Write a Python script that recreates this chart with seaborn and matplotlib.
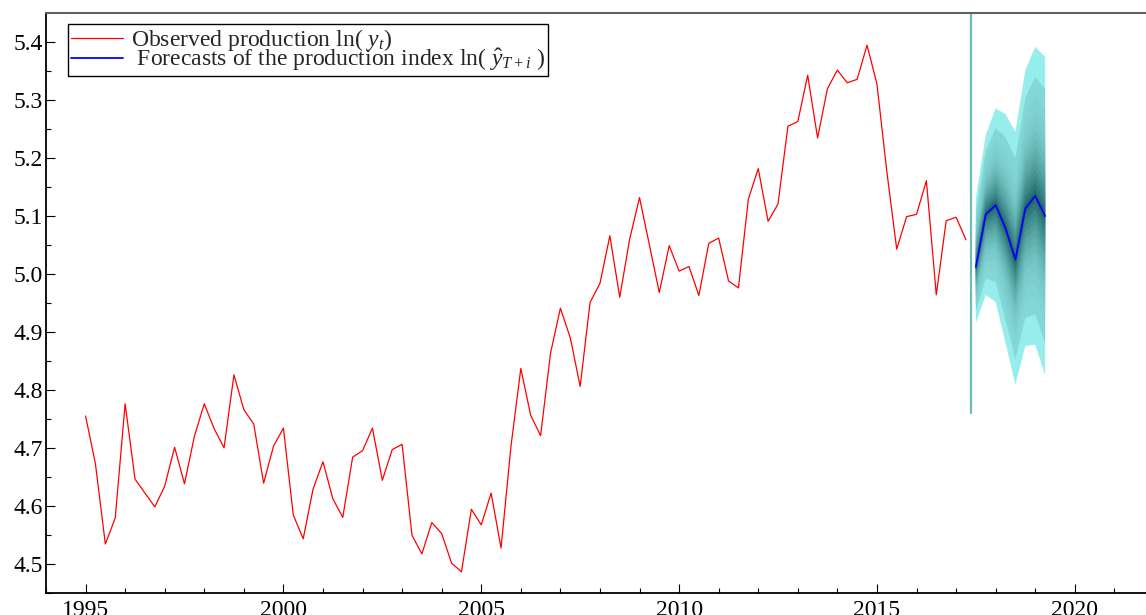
import numpy as np
import pandas as pd
import matplotlib
matplotlib.use("Agg")
import matplotlib.pyplot as plt
import seaborn as sns

# ---------------- data ----------------
obs_start = 1995.0          # first quarter of the observed sample
observed = [
    4.755, 4.672, 4.534, 4.579, 4.776, 4.646, 4.622, 4.598, 4.634, 4.701,
    4.638, 4.720, 4.776, 4.733, 4.700, 4.826, 4.766, 4.741, 4.639, 4.703,
    4.734, 4.584, 4.543, 4.629, 4.676, 4.612, 4.580, 4.684, 4.695, 4.734,
    4.644, 4.697, 4.706, 4.549, 4.517, 4.571, 4.552, 4.501, 4.486, 4.594,
    4.567, 4.622, 4.527, 4.702, 4.837, 4.756, 4.721, 4.863, 4.941, 4.890,
    4.806, 4.951, 4.984, 5.066, 4.960, 5.060, 5.132, 5.050, 4.968, 5.049,
    5.005, 5.013, 4.963, 5.053, 5.062, 4.988, 4.976, 5.129, 5.182, 5.091,
    5.121, 5.255, 5.263, 5.343, 5.235, 5.320, 5.352, 5.330, 5.336, 5.395,
    5.328, 5.177, 5.043, 5.099, 5.103, 5.161, 4.964, 5.092, 5.098, 5.059,
]
fc_start = 2017.5           # first forecast quarter
forecast = [5.012, 5.103, 5.119, 5.079, 5.025, 5.113, 5.135, 5.100]
fc_upper = [5.130, 5.240, 5.286, 5.276, 5.245, 5.352, 5.392, 5.375]
fc_lower = [4.915, 4.964, 4.952, 4.881, 4.809, 4.876, 4.878, 4.826]
divider_bottom = 4.76       # lower end of the forecast-origin marker

x_ticks = [1995, 2000, 2005, 2010, 2015, 2020]
y_ticks = [4.5, 4.6, 4.7, 4.8, 4.9, 5.0, 5.1, 5.2, 5.3, 5.4]

label_obs = r"Observed production ln( $y_t$)"
label_fc = r" Forecasts of the production index ln( $\hat{y}_{T+i}$ )"

# fan-chart band widths (fraction of the outer band) - styling
band_fracs = [1.0, 0.797, 0.674, 0.582, 0.506, 0.439, 0.379, 0.323,
              0.272, 0.223, 0.178, 0.132, 0.087, 0.043]

# ---------------- frames ----------------
obs_df = pd.DataFrame({"year": obs_start + 0.25 * np.arange(len(observed)),
                       "value": observed})
fc_df = pd.DataFrame({"year": fc_start + 0.25 * np.arange(len(forecast)),
                      "value": forecast, "upper": fc_upper, "lower": fc_lower})

# ---------------- style ----------------
sns.set_style("ticks")
plt.rcParams["font.family"] = ["Liberation Serif", "DejaVu Serif"]
plt.rcParams["mathtext.fontset"] = "custom"
plt.rcParams["mathtext.rm"] = "Liberation Serif"
plt.rcParams["mathtext.it"] = "Liberation Serif:italic"
plt.rcParams["mathtext.bf"] = "Liberation Serif:bold"

W, H = 1146, 615
fig = plt.figure(figsize=(W / 100, H / 100), dpi=100)
L, B, T = 46, 592.7, 12.7
ax = fig.add_axes([L / W, 1 - B / H, 1 - L / W, (B - T) / H])

# fan chart
light = np.array([0x97, 0xec, 0xec]) / 255
dark = np.array([0x24, 0x6c, 0x6c]) / 255
n = len(band_fracs)
fx = fc_df["year"].to_numpy()
f = fc_df["value"].to_numpy()
up = fc_df["upper"].to_numpy()
lo = fc_df["lower"].to_numpy()
for i, fr in enumerate(band_fracs):
    t = 0.15 + 0.85 * (i / (n - 1)) ** 1.6 if i > 0 else 0.0
    col = light * (1 - t) + dark * t
    ax.fill_between(fx, f - fr * (f - lo), f + fr * (up - f),
                    facecolor=col, edgecolor="none", lw=0, zorder=2)

# forecast origin marker
div_x = (obs_df["year"].iloc[-1] + fc_df["year"].iloc[0]) / 2
ylo, yhi = 4.45, 5.451
ax.axvline(div_x, ymin=(divider_bottom - ylo) / (yhi - ylo), ymax=1,
           color="#6cbcbc", lw=1.6, zorder=1)

sns.lineplot(data=obs_df, x="year", y="value", ax=ax, color="#ff0000",
             lw=0.9, label=label_obs, zorder=3)
sns.lineplot(data=fc_df, x="year", y="value", ax=ax, color="#0000ff",
             lw=1.3, label=label_fc, zorder=4)

ax.set_xlim(1994.0, 2021.8)
ax.set_ylim(ylo, yhi)
ax.set_xlabel("")
ax.set_ylabel("")
ax.set_xticks(x_ticks)
ax.set_xticklabels([str(v) for v in x_ticks])
ax.set_xticks(np.arange(1994, 2022, 1), minor=True)
ax.set_yticks(y_ticks)
ax.set_yticklabels([f"{v:.1f}" for v in y_ticks])
ax.set_yticks(np.arange(4.45, 5.45, 0.05), minor=True)

ax.tick_params(which="both", direction="in", top=False, right=False,
               width=0.8, colors="black")
ax.tick_params(which="major", length=6.3, labelsize=17)
ax.tick_params(axis="y", which="major", pad=2.4)
ax.tick_params(axis="x", which="major", pad=5.5)
ax.tick_params(which="minor", length=3.3)

for s in ["left", "bottom"]:
    ax.spines[s].set_color("black")
    ax.spines[s].set_linewidth(1.3)
ax.spines["top"].set_color("#606060")
ax.spines["top"].set_linewidth(1.5)
ax.spines["right"].set_visible(False)

leg = ax.legend(loc="upper left", bbox_to_anchor=((68.3 - L) / (W - L), (B - 24) / (B - T)),
                borderaxespad=0, frameon=True, fancybox=False, framealpha=1,
                edgecolor="black", fontsize=17, borderpad=0.12,
                labelspacing=-0.25, handlelength=2.2, handletextpad=0.35)
leg.get_frame().set_linewidth(1.0)

fig.savefig("out.png", dpi=100)
